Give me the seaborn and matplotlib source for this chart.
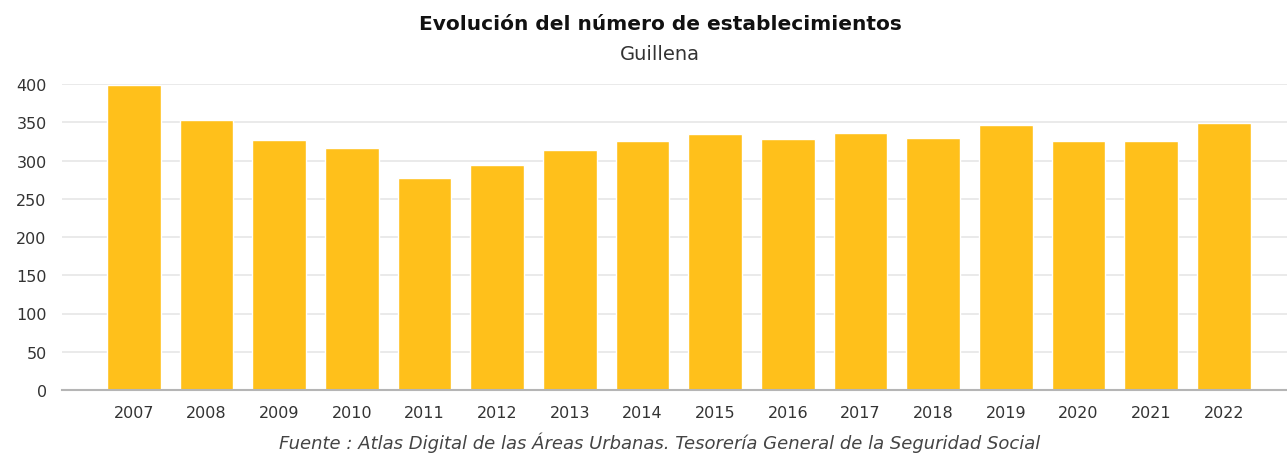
import matplotlib
matplotlib.use("Agg")
import matplotlib.pyplot as plt
import seaborn as sns
import pandas as pd

# data
years = ["2007", "2008", "2009", "2010", "2011", "2012", "2013", "2014",
         "2015", "2016", "2017", "2018", "2019", "2020", "2021", "2022"]
establecimientos = [399, 353, 327, 316, 277, 294, 314, 326,
                    334, 328, 336, 329, 347, 326, 326, 349]
y_ticks = [0, 50, 100, 150, 200, 250, 300, 350, 400]

title = "Evolución del número de establecimientos"
subtitle = "Guillena"
source = "Fuente : Atlas Digital de las Áreas Urbanas. Tesorería General de la Seguridad Social"

df = pd.DataFrame({"year": years, "value": establecimientos})

sns.set_style("white")
# the reference text is drawn wide, DejaVu Sans is closer than an Arial clone
plt.rcParams["font.family"] = ["DejaVu Sans"]

fig = plt.figure(figsize=(12.87, 4.56), dpi=100)
ax = fig.add_axes([62 / 1287, 65 / 456, 1 - 62 / 1287, (391 - 85) / 456])

sns.barplot(data=df, x="year", y="value", color="#FFC01B", saturation=1,
            width=0.74, ax=ax, zorder=3)

ax.set_xlim(-0.99, 15.87)
ax.set_ylim(0, 400)
ax.set_yticks(y_ticks)
ax.yaxis.grid(True, color="#e6e6e6", linewidth=1.2, zorder=0)
ax.set_axisbelow(True)
for s in ["top", "right", "left"]:
    ax.spines[s].set_visible(False)
ax.spines["bottom"].set_color("#b5b5b5")
ax.spines["bottom"].set_linewidth(1.5)
ax.spines["bottom"].set_zorder(4)

ax.tick_params(axis="y", length=0, pad=11, labelsize=11.5, labelcolor="#333333")
ax.tick_params(axis="x", length=5, color="#e0e0e0", pad=6, labelsize=11.5,
               labelcolor="#333333")
ax.set_xlabel("")
ax.set_ylabel("")

fig.text(660 / 1287, 1 - 25 / 456, title, ha="center", va="center",
         fontsize=14.5, fontweight="bold", color="#111111")
fig.text(660 / 1287, 1 - 55 / 456, subtitle, ha="center", va="center",
         fontsize=14, color="#333333")
fig.text(660 / 1287, 1 - 443 / 456, source, ha="center", va="center",
         fontsize=13, style="italic", color="#444444")

fig.savefig("out.png", dpi=100)
